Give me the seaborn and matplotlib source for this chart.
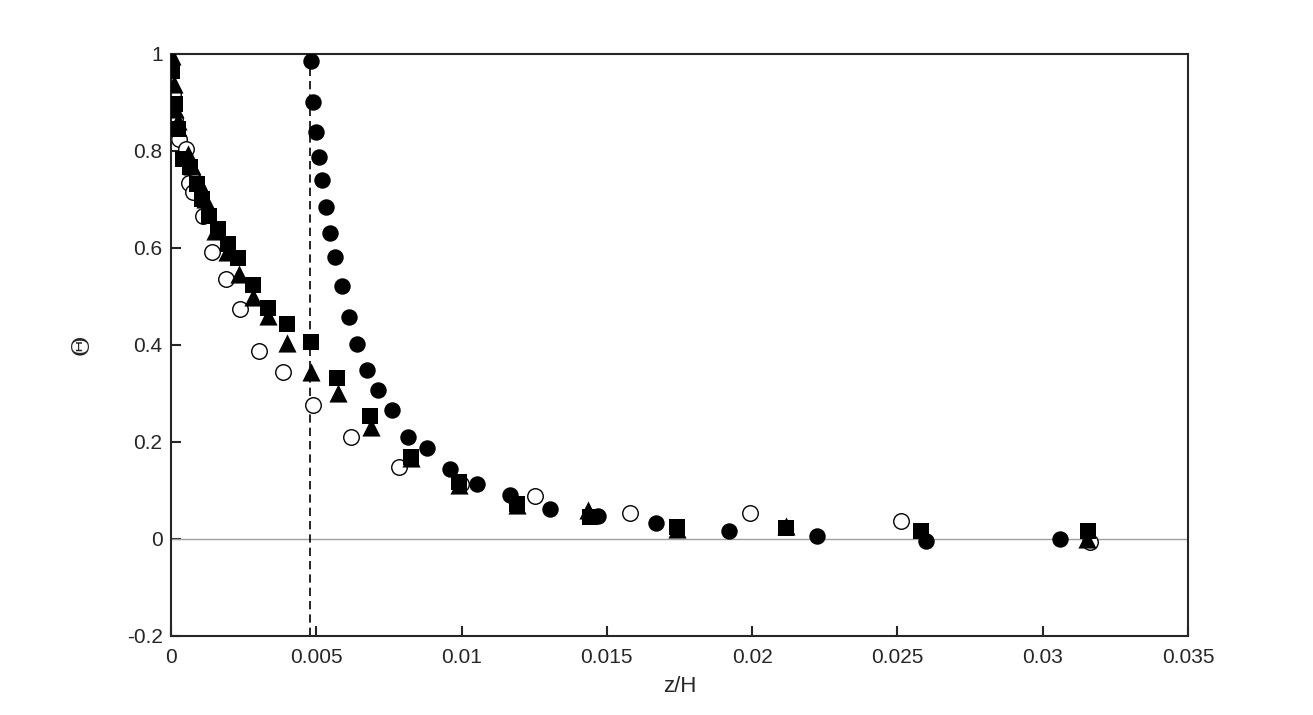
import pandas as pd
import matplotlib
matplotlib.use('Agg')
import matplotlib.pyplot as plt
import seaborn as sns

# datos (z/H, Theta)
x_llenos = [0.00482, 0.00489, 0.00499, 0.00509, 0.00520, 0.00533, 0.00547, 0.00564, 0.00588,
            0.00613, 0.00640, 0.00675, 0.00712, 0.00761, 0.00816, 0.00881, 0.00960, 0.01053,
            0.01167, 0.01304, 0.01470, 0.01669, 0.01920, 0.02223, 0.02598, 0.03059]
y_llenos = [0.986, 0.901, 0.839, 0.787, 0.740, 0.684, 0.631, 0.581, 0.522,
            0.458, 0.402, 0.348, 0.307, 0.266, 0.210, 0.188, 0.144, 0.113,
            0.091, 0.062, 0.047, 0.033, 0.016, 0.006, -0.004, 0.000]

x_cuadrados = [0.00003, 0.00014, 0.00024, 0.00041, 0.00065, 0.00089, 0.00107, 0.00131, 0.00162,
               0.00196, 0.00231, 0.00282, 0.00334, 0.00399, 0.00482, 0.00571, 0.00685, 0.00826,
               0.00991, 0.01191, 0.01442, 0.01741, 0.02117, 0.02581, 0.03156]
y_cuadrados = [0.965, 0.897, 0.845, 0.784, 0.767, 0.732, 0.701, 0.666, 0.639,
               0.608, 0.579, 0.524, 0.476, 0.443, 0.406, 0.332, 0.254, 0.169,
               0.118, 0.072, 0.045, 0.025, 0.022, 0.016, 0.016]

x_triangulos = [0.00003, 0.00010, 0.00014, 0.00024, 0.00059, 0.00072, 0.00096, 0.00117, 0.00151,
                0.00193, 0.00234, 0.00282, 0.00334, 0.00399, 0.00482, 0.00575, 0.00688, 0.00826,
                0.00991, 0.01191, 0.01435, 0.01741, 0.02117, 0.03152]
y_triangulos = [0.996, 0.938, 0.887, 0.862, 0.794, 0.769, 0.736, 0.701, 0.635,
                0.592, 0.546, 0.499, 0.460, 0.404, 0.344, 0.301, 0.231, 0.167,
                0.111, 0.070, 0.060, 0.021, 0.027, 0.000]

x_abiertos = [0.00007, 0.00014, 0.00028, 0.00052, 0.00062, 0.00076, 0.00110, 0.00141, 0.00189,
              0.00237, 0.00303, 0.00385, 0.00489, 0.00619, 0.00785, 0.00998, 0.01253, 0.01580,
              0.01993, 0.02512, 0.03163]
y_abiertos = [0.918, 0.866, 0.825, 0.804, 0.734, 0.715, 0.666, 0.592, 0.536,
              0.474, 0.388, 0.344, 0.276, 0.210, 0.148, 0.113, 0.089, 0.054,
              0.054, 0.037, -0.006]

z_linea = 0.0048

sns.set_style('white')
plt.rcParams['font.family'] = ['Liberation Sans', 'DejaVu Sans']

fig = plt.figure(figsize=(13.13, 7.15), dpi=100)
ax = fig.add_axes([0.1302, 0.1105, 0.7746, 0.814])

ax.axhline(0, color='#a0a0a0', lw=1, zorder=1)
ax.axvline(z_linea, color='black', lw=1.2, ls=(0, (5, 3)), zorder=1)

sns.scatterplot(x=x_abiertos, y=y_abiertos, marker='o', s=125, facecolor='white',
                edgecolor='black', linewidth=1, ax=ax, zorder=2)
sns.scatterplot(x=x_llenos, y=y_llenos, marker='o', s=140, color='black',
                edgecolor='black', linewidth=0, ax=ax, zorder=3)
sns.scatterplot(x=x_cuadrados, y=y_cuadrados, marker='s', s=125, color='black',
                edgecolor='black', linewidth=0, ax=ax, zorder=3)
sns.scatterplot(x=x_triangulos, y=y_triangulos, marker='^', s=170, color='black',
                edgecolor='black', linewidth=0, ax=ax, zorder=3)

ax.set_xlim(0, 0.035)
ax.set_ylim(-0.2, 1)
ax.set_xticks([0, 0.005, 0.01, 0.015, 0.02, 0.025, 0.03, 0.035])
ax.set_xticklabels(['0', '0.005', '0.01', '0.015', '0.02', '0.025', '0.03', '0.035'])
ax.set_yticks([-0.2, 0, 0.2, 0.4, 0.6, 0.8, 1])
ax.set_yticklabels(['-0.2', '0', '0.2', '0.4', '0.6', '0.8', '1'])

for lado in ax.spines.values():
    lado.set_color('#262626')
    lado.set_linewidth(1.5)
ax.tick_params(direction='in', length=7, width=1.5, color='#262626', labelcolor='#262626',
               labelsize=15, bottom=True, left=True, top=False, right=False)
ax.tick_params(axis='x', pad=9)
ax.tick_params(axis='y', pad=6)

ax.set_xlabel('z/H', fontsize=16, color='#262626', labelpad=6)
ax.set_ylabel('Θ', fontsize=18, color='#262626', family='DejaVu Serif', labelpad=24)

fig.savefig('out.png', dpi=100)
